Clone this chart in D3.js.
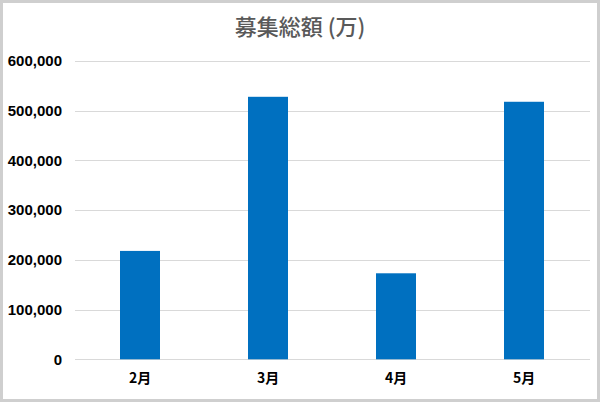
<!DOCTYPE html>
<html>
<head>
<meta charset="utf-8">
<script src="https://cdn.jsdelivr.net/npm/d3@7"></script>
<style>
    html, body { margin: 0; padding: 0; background: #fff; }
    .chart-title { font-family: "Noto Sans CJK JP", sans-serif; font-size: 22px; font-weight: 500; fill: #595959; }
    .axis text { font-family: "Liberation Sans", Arial, sans-serif; font-size: 15px; font-weight: bold; fill: #000; }
    .axis.x text { font-family: "Noto Sans CJK JP", sans-serif; font-size: 14px; font-weight: bold; }
    .grid-lines line { stroke: #d9d9d9; stroke-width: 1; }
    .chart-bar { fill: #0070c0; }
</style>
</head>
<body>
<div class="mainview"></div>
<script>

const months = ["2月", "3月", "4月", "5月"];
const totals = [218000, 528000, 173000, 518000];
const yTicks = [0, 100000, 200000, 300000, 400000, 500000, 600000];
const title = "募集総額 (万)";

const dim = { width: 600, height: 402 };
const margin = { top: 61, right: 12, bottom: 43, left: 76 };

const x = d3.scaleBand()
    .domain(months)
    .range([margin.left, dim.width - margin.right])
    .paddingInner(0.6875)
    .paddingOuter(0.34375);

const y = d3.scaleLinear()
    .domain([0, 600000])
    .range([dim.height - margin.bottom + 0.3, margin.top]);

const svg = d3.select(".mainview").append("svg")
    .attr("width", dim.width)
    .attr("height", dim.height)
    .attr("viewBox", [0, 0, dim.width, dim.height]);

// frame
svg.append("rect")
    .attr("x", 1.5).attr("y", 1.5)
    .attr("width", dim.width - 3).attr("height", dim.height - 3)
    .style("fill", "white")
    .style("stroke", "#cfcfcf")
    .style("stroke-width", 3);

svg.append("text")
    .attr("class", "chart-title")
    .attr("x", dim.width / 2)
    .attr("y", 35)
    .attr("text-anchor", "middle")
    .text(title);

// grid
svg.append("g")
    .attr("class", "grid-lines")
    .selectAll("line")
    .data(yTicks)
    .join("line")
    .attr("x1", margin.left - 1)
    .attr("x2", dim.width - 10)
    .attr("y1", d => Math.round(y(d)) + 0.5)
    .attr("y2", d => Math.round(y(d)) + 0.5);

// y axis
const yAxis = d3.axisLeft(y)
    .tickValues(yTicks)
    .tickFormat(d3.format(","))
    .tickSize(0)
    .tickPadding(14);

svg.append("g")
    .attr("transform", `translate(${ margin.left }, 0)`)
    .attr("class", "axis y")
    .call(yAxis)
    .call(g => g.select(".domain").remove());

// x axis
const xAxis = d3.axisBottom(x)
    .tickSize(0)
    .tickPadding(14);

svg.append("g")
    .attr("transform", `translate(0, ${ dim.height - margin.bottom })`)
    .attr("class", "axis x")
    .call(xAxis)
    .call(g => g.select(".domain").remove());

// bars
svg.append("g")
    .selectAll("rect")
    .data(months)
    .join("rect")
    .attr("class", "chart-bar")
    .attr("x", d => x(d))
    .attr("width", x.bandwidth())
    .attr("y", (d, i) => y(totals[i]))
    .attr("height", (d, i) => y(0) - y(totals[i]));

</script>
</body>
</html>
